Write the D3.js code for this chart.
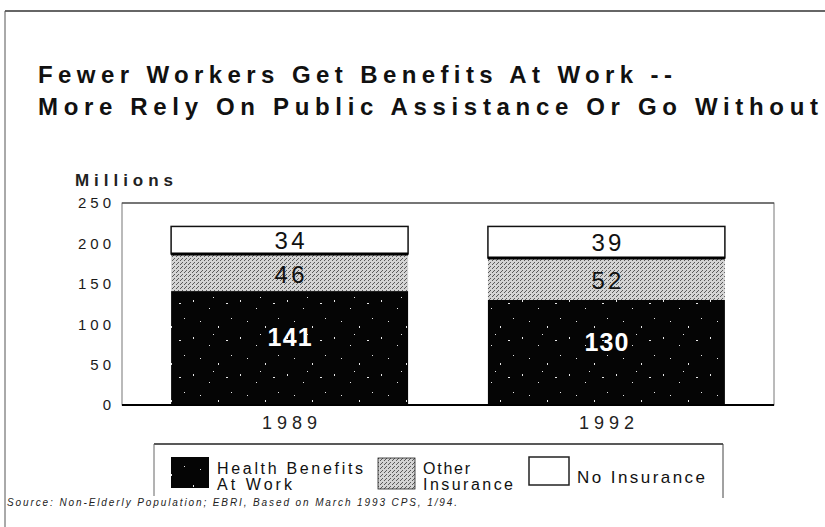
<!DOCTYPE html>
<html>
<head>
<meta charset="utf-8">
<script src="https://cdn.jsdelivr.net/npm/d3@7/dist/d3.min.js"></script>
<style>
  html, body { margin: 0; padding: 0; background: #fff; }
  svg { display: block; font-family: "Liberation Sans", Arial, sans-serif; }
</style>
</head>
<body>
<svg id="chart" width="825" height="527"></svg>
<script>
// Non-elderly population by source of health coverage, millions
const years = ["1989", "1992"];
const healthAtWork = [141, 130];
const otherInsurance = [46, 52];
const noInsurance = [34, 39];
const seriesKeys = ["work", "other", "none"];
const yTicks = [0, 50, 100, 150, 200, 250];
const titleLines = [
  "Fewer Workers Get Benefits At Work --",
  "More Rely On Public Assistance Or Go Without"
];
const sourceNote = "Source:  Non-Elderly Population; EBRI, Based on March 1993 CPS, 1/94.";

const rows = years.map((yr, i) => ({
  year: yr, work: healthAtWork[i], other: otherInsurance[i], none: noInsurance[i]
}));

const svg = d3.select("#chart");
const defs = svg.append("defs");

// stippled grey fill
const stip = defs.append("pattern").attr("id", "stipple")
  .attr("patternUnits", "userSpaceOnUse").attr("width", 4).attr("height", 4);
stip.append("rect").attr("width", 4).attr("height", 4).attr("fill", "#d4d4d4");
[[0, 0], [2, 2], [1, 3]].forEach(([px, py]) =>
  stip.append("rect").attr("x", px).attr("y", py).attr("width", 1).attr("height", 1).attr("fill", "#5a5a5a"));

// black fill with sparse white specks
const speck = defs.append("pattern").attr("id", "speck")
  .attr("patternUnits", "userSpaceOnUse").attr("width", 47).attr("height", 37);
speck.append("rect").attr("width", 47).attr("height", 37).attr("fill", "#050505");
[[5, 4, 1, 2], [21, 12, 1, 1], [38, 7, 2, 1], [12, 25, 1, 1], [30, 30, 1, 2], [43, 22, 1, 1], [25, 1, 1, 1]]
  .forEach(([px, py, w, h]) =>
    speck.append("rect").attr("x", px).attr("y", py).attr("width", w).attr("height", h).attr("fill", "#e8e8e8"));

// page frame
svg.append("line").attr("x1", 5).attr("x2", 825).attr("y1", 11).attr("y2", 11)
  .attr("stroke", "#333").attr("stroke-width", 1.5);
svg.append("line").attr("x1", 5).attr("x2", 5).attr("y1", 11).attr("y2", 527)
  .attr("stroke", "#555").attr("stroke-width", 1);

// title
const titleW = [634, 780];
titleLines.forEach((t, i) => {
  svg.append("text").attr("x", 38).attr("y", 83 + i * 32)
    .attr("font-size", 24).attr("font-weight", "bold").attr("fill", "#111")
    .attr("textLength", titleW[i]).attr("lengthAdjust", "spacing")
    .text(t);
});

// plot area
const plot = { left: 122, right: 774, top: 203, bottom: 405 };

const x = d3.scaleBand().domain(years)
  .range([plot.left, plot.right]).paddingInner(0.252).paddingOuter(0.155);
const y = d3.scaleLinear().domain([0, 250]).range([plot.bottom, plot.top]);

svg.append("rect").attr("x", plot.left).attr("y", plot.top)
  .attr("width", plot.right - plot.left).attr("height", plot.bottom - plot.top)
  .attr("fill", "#fff").attr("stroke", "#777").attr("stroke-width", 1);
svg.append("line").attr("x1", plot.left).attr("x2", plot.right)
  .attr("y1", plot.top).attr("y2", plot.top).attr("stroke", "#333").attr("stroke-width", 1.2);

svg.append("text").attr("x", 75).attr("y", 186)
  .attr("font-size", 17).attr("font-weight", "bold").attr("fill", "#222")
  .attr("textLength", 98).attr("lengthAdjust", "spacing").text("Millions");

// y axis
const yAxis = svg.append("g").attr("transform", `translate(${plot.left},0)`)
  .call(d3.axisLeft(y).tickValues(yTicks).tickSize(0).tickPadding(7));
yAxis.select(".domain").remove();
yAxis.selectAll("text")
  .attr("font-family", "Liberation Sans, Arial, sans-serif")
  .attr("font-size", 15).attr("fill", "#1a1a1a")
  .style("letter-spacing", "4px");

// stacked bars
const stack = d3.stack().keys(seriesKeys);
const layers = stack(rows);
const fills = { work: "url(#speck)", other: "url(#stipple)", none: "#fff" };

const g = svg.append("g");
layers.forEach(layer => {
  g.selectAll(null).data(layer).enter().append("rect")
    .attr("x", d => x(d.data.year))
    .attr("y", d => y(d[1]))
    .attr("width", x.bandwidth())
    .attr("height", d => y(d[0]) - y(d[1]))
    .attr("fill", fills[layer.key])
    .attr("stroke", layer.key === "none" ? "#111" : "none")
    .attr("stroke-width", 1.5);
});
// heavy rule between grey and white segments
g.selectAll(null).data(layers[1]).enter().append("line")
  .attr("x1", d => x(d.data.year)).attr("x2", d => x(d.data.year) + x.bandwidth())
  .attr("y1", d => y(d[1])).attr("y2", d => y(d[1]))
  .attr("stroke", "#000").attr("stroke-width", 3);

// value labels
layers.forEach(layer => {
  const isWork = layer.key === "work";
  g.selectAll(null).data(layer).enter().append("text")
    .attr("x", d => x(d.data.year) + x.bandwidth() / 2)
    .attr("y", d => isWork ? y(d[0] + (d[1] - d[0]) * 0.6) : y((d[0] + d[1]) / 2) + (layer.key === "other" ? 2 : 0))
    .attr("text-anchor", "middle").attr("dominant-baseline", "central")
    .attr("font-size", isWork ? 25 : 24)
    .attr("font-weight", isWork ? "bold" : "normal")
    .attr("fill", isWork ? "#fff" : "#111")
    .attr("textLength", isWork ? 44 : 30).attr("lengthAdjust", "spacing")
    .text(d => d.data[layer.key]);
});

// baseline
svg.append("line").attr("x1", plot.left).attr("x2", plot.right)
  .attr("y1", plot.bottom).attr("y2", plot.bottom).attr("stroke", "#000").attr("stroke-width", 2);

// category labels
const xAxis = svg.append("g").attr("transform", `translate(0,${plot.bottom})`)
  .call(d3.axisBottom(x).tickSize(0).tickPadding(11));
xAxis.select(".domain").remove();
xAxis.selectAll("text")
  .attr("font-family", "Liberation Sans, Arial, sans-serif")
  .attr("font-size", 18).attr("fill", "#222")
  .attr("textLength", 55).attr("lengthAdjust", "spacing");

// legend
const lg = svg.append("g");
lg.append("line").attr("x1", 154).attr("x2", 723).attr("y1", 444).attr("y2", 444)
  .attr("stroke", "#222").attr("stroke-width", 1.5);
lg.append("line").attr("x1", 154).attr("x2", 154).attr("y1", 444).attr("y2", 496)
  .attr("stroke", "#666").attr("stroke-width", 1);
lg.append("line").attr("x1", 723).attr("x2", 723).attr("y1", 444).attr("y2", 498)
  .attr("stroke", "#444").attr("stroke-width", 1);

const legendItems = [
  { key: "work", sx: 171, sy: 457, sw: 38, sh: 31, lines: ["Health Benefits", "At Work"], tx: 217, ty: [474, 490], tw: [146, 75], fs: 16 },
  { key: "other", sx: 378, sy: 458, sw: 37, sh: 31, lines: ["Other", "Insurance"], tx: 423, ty: [474, 490], tw: [47, 90], fs: 16 },
  { key: "none", sx: 529, sy: 457, sw: 40, sh: 28, lines: ["No Insurance"], tx: 577, ty: [483], tw: [128], fs: 17 }
];
legendItems.forEach(it => {
  lg.append("rect").attr("x", it.sx).attr("y", it.sy).attr("width", it.sw).attr("height", it.sh)
    .attr("fill", fills[it.key])
    .attr("stroke", it.key === "work" ? "none" : "#222").attr("stroke-width", it.key === "none" ? 1.5 : 0.8);
  it.lines.forEach((ln, j) => {
    lg.append("text").attr("x", it.tx).attr("y", it.ty[j])
      .attr("font-size", it.fs).attr("fill", "#111")
      .attr("textLength", it.tw[j]).attr("lengthAdjust", "spacing").text(ln);
  });
});

// source note
svg.append("text").attr("x", 7).attr("y", 506)
  .attr("font-size", 10).attr("font-style", "italic").attr("fill", "#222")
  .attr("textLength", 450).attr("lengthAdjust", "spacing").text(sourceNote);
</script>
</body>
</html>
